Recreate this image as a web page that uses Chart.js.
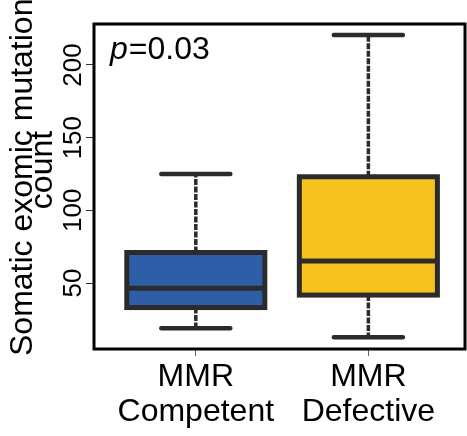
<!DOCTYPE html>
<html>
<head>
<meta charset="utf-8">
<script src="https://cdn.jsdelivr.net/npm/chart.js@4"></script>
<style>
  html, body { margin: 0; padding: 0; background: #fff; }
  #wrap { width: 467px; height: 436px; position: relative; }
</style>
</head>
<body>
<div id="wrap"><canvas id="chart"></canvas></div>
<script>
// Groups and their box-plot summaries
const groups = [['MMR', 'Competent'], ['MMR', 'Defective']];
const groupPos = [1, 2];
const whiskerLow = [18.8, 12.6];
const quartile1 = [33.1, 41.7];
const medians = [46.4, 65.1];
const quartile3 = [71.0, 123.1];
const whiskerHigh = [125.0, 220.6];
const boxColors = ['#2f5ea8', '#f8c21e'];
const yTicks = [50, 100, 150, 200];
const pLabel = '=0.03';

const FONT = "'Liberation Sans', Arial, sans-serif";
const LINE = '#2b2b2b';

// Whiskers, staples, box outlines and medians on top of the bar fills
const boxPlot = {
    id: 'boxPlot',
    afterDatasetsDraw(chart) {
        const ctx = chart.ctx;
        const x = chart.scales.x;
        const y = chart.scales.y;
        ctx.save();
        ctx.strokeStyle = LINE;
        groupPos.forEach((g, i) => {
            const cx = x.getPixelForValue(g);
            const bl = x.getPixelForValue(g - 0.4);
            const br = x.getPixelForValue(g + 0.4);
            const sl = x.getPixelForValue(g - 0.2);
            const sr = x.getPixelForValue(g + 0.2);
            const yLo = y.getPixelForValue(whiskerLow[i]);
            const yQ1 = y.getPixelForValue(quartile1[i]);
            const yMed = y.getPixelForValue(medians[i]);
            const yQ3 = y.getPixelForValue(quartile3[i]);
            const yHi = y.getPixelForValue(whiskerHigh[i]);

            // dashed whiskers
            ctx.lineWidth = 3.5;
            ctx.lineCap = 'butt';
            ctx.setLineDash([6, 1.5]);
            ctx.beginPath();
            ctx.moveTo(cx, yQ3); ctx.lineTo(cx, yHi);
            ctx.moveTo(cx, yQ1); ctx.lineTo(cx, yLo);
            ctx.stroke();
            ctx.setLineDash([]);

            // staples
            ctx.lineWidth = 4.5;
            ctx.lineCap = 'round';
            ctx.beginPath();
            ctx.moveTo(sl, yHi); ctx.lineTo(sr, yHi);
            ctx.moveTo(sl, yLo); ctx.lineTo(sr, yLo);
            ctx.stroke();

            // box and median
            ctx.lineCap = 'butt';
            ctx.lineJoin = 'miter';
            ctx.lineWidth = 5;
            ctx.strokeRect(bl, yQ3, br - bl, yQ1 - yQ3);
            ctx.beginPath();
            ctx.moveTo(bl, yMed); ctx.lineTo(br, yMed);
            ctx.stroke();
        });
        ctx.restore();
    }
};

// Frame, rotated y tick labels, axis title and the p-value
const decor = {
    id: 'decor',
    afterDraw(chart) {
        const ctx = chart.ctx;
        const a = chart.chartArea;
        const y = chart.scales.y;
        ctx.save();
        ctx.strokeStyle = '#000';
        ctx.lineWidth = 3;
        ctx.strokeRect(a.left, a.top, a.right - a.left, a.bottom - a.top);

        ctx.fillStyle = '#000';
        ctx.font = '26px ' + FONT;
        ctx.textAlign = 'center';
        ctx.textBaseline = 'alphabetic';
        yTicks.forEach(v => {
            ctx.save();
            ctx.translate(81, y.getPixelForValue(v));
            ctx.rotate(-Math.PI / 2);
            ctx.fillText(String(v), 0, 0);
            ctx.restore();
        });

        ctx.font = '32px ' + FONT;
        ctx.save();
        ctx.translate(32, 356);
        ctx.rotate(-Math.PI / 2);
        ctx.textAlign = 'left';
        ctx.fillText('Somatic exomic mutation', 0, 0);
        ctx.restore();
        ctx.save();
        ctx.translate(52, 170);
        ctx.rotate(-Math.PI / 2);
        ctx.fillText('count', 0, 0);
        ctx.restore();

        ctx.textAlign = 'left';
        ctx.font = 'italic 32px ' + FONT;
        ctx.fillText('p', 110, 59);
        const pw = ctx.measureText('p').width;
        ctx.font = '32px ' + FONT;
        ctx.fillText(pLabel, 110 + pw + 1, 59);
        ctx.restore();
    }
};

new Chart(document.getElementById('chart'), {
    type: 'bar',
    data: {
        datasets: [{
            data: groupPos.map((g, i) => ({ x: g, y: [quartile1[i], quartile3[i]] })),
            backgroundColor: boxColors,
            borderWidth: 0,
            categoryPercentage: 0.8,
            barPercentage: 1.0
        }]
    },
    options: {
        responsive: true,
        maintainAspectRatio: false,
        animation: false,
        layout: { padding: { top: 24, right: 2, left: 0, bottom: 0 } },
        plugins: { legend: { display: false }, tooltip: { enabled: false } },
        scales: {
            x: {
                type: 'linear',
                offset: false,
                min: 0.41,
                max: 2.56,
                afterBuildTicks: s => { s.ticks = groupPos.map(v => ({ value: v })); },
                afterFit: s => { s.height = 87; },
                border: { display: false },
                grid: { offset: false, drawOnChartArea: false, drawTicks: true, tickLength: 7, color: '#666' },
                ticks: {
                    callback: v => groups[groupPos.indexOf(v)],
                    font: { family: FONT, size: 32, lineHeight: 1.08 },
                    color: '#000',
                    padding: 4,
                    maxRotation: 0
                }
            },
            y: {
                min: 4.6,
                max: 228.2,
                afterBuildTicks: s => { s.ticks = yTicks.map(v => ({ value: v })); },
                afterFit: s => { s.width = 94; },
                border: { display: false },
                grid: { drawOnChartArea: false, drawTicks: true, tickLength: 8, color: '#333' },
                ticks: { display: false }
            }
        }
    },
    plugins: [boxPlot, decor]
});
</script>
</body>
</html>
